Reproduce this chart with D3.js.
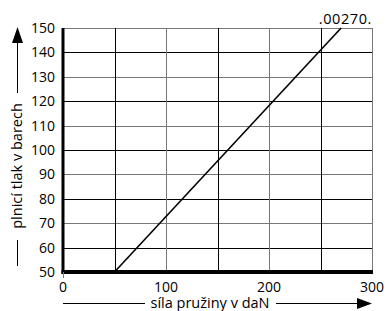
<!DOCTYPE html>
<meta charset="utf-8">
<script src="https://d3js.org/d3.v7.min.js"></script>
<style>
  body { margin: 0; background: #fff; }
  text { font-family: "Open Sans", "Noto Sans", sans-serif; fill: #000; }
</style>
<div id="chart"></div>
<script>
  // data
  var xTicks = [0, 100, 200, 300];
  var yTicks = [50, 60, 70, 80, 90, 100, 110, 120, 130, 140, 150];
  var xGrid = [50, 100, 150, 200, 250, 300];
  var lineX = [50, 270];
  var lineY = [50, 150];
  var lineLabel = ".00270.";

  var W = 387, H = 311;
  var margin = { top: 28, right: 15, bottom: 39, left: 63 };
  var width = W - margin.left - margin.right,
      height = H - margin.top - margin.bottom;

  var svg = d3.select("#chart").append("svg")
    .attr("width", W).attr("height", H);
  var g = svg.append("g")
    .attr("transform", "translate(" + margin.left + "," + margin.top + ")");

  var x = d3.scaleLinear().domain([0, 300]).range([0, width]);
  var y = d3.scaleLinear().domain([50, 150]).range([height, 0]);

  // horizontal grid
  g.selectAll(".hg").data(yTicks.slice(1)).enter().append("line")
    .attr("x1", 0).attr("x2", width)
    .attr("y1", function (d) { return Math.round(y(d)) + 0.5; })
    .attr("y2", function (d) { return Math.round(y(d)) + 0.5; })
    .attr("stroke", function (d) { return d % 20 == 0 ? "#000" : "#777"; })
    .attr("stroke-width", 1);

  // vertical grid
  g.selectAll(".vg").data(xGrid).enter().append("line")
    .attr("y1", 0).attr("y2", height)
    .attr("x1", function (d) { return Math.round(x(d)) + 0.5; })
    .attr("x2", function (d) { return Math.round(x(d)) + 0.5; })
    .attr("stroke", function (d) { return d % 100 == 50 ? "#000" : "#777"; })
    .attr("stroke-width", 1);

  // axes (thick)
  g.append("line").attr("x1", 0).attr("x2", 0).attr("y1", 0).attr("y2", height + 2)
    .attr("stroke", "#000").attr("stroke-width", 3);
  g.append("line").attr("x1", -1.5).attr("x2", width + 1).attr("y1", height).attr("y2", height)
    .attr("stroke", "#000").attr("stroke-width", 4);
  g.append("line").attr("x1", 0.5).attr("x2", 0.5).attr("y1", height).attr("y2", height + 6)
    .attr("stroke", "#777").attr("stroke-width", 1);

  // tick labels
  g.selectAll(".yl").data(yTicks).enter().append("text")
    .attr("x", -8).attr("y", function (d) { return y(d) + 5; })
    .attr("text-anchor", "end").style("font-size", "14px")
    .text(function (d) { return d; });
  g.selectAll(".xl").data(xTicks).enter().append("text")
    .attr("x", function (d) { return x(d); }).attr("y", height + 20)
    .attr("text-anchor", "middle").style("font-size", "14px")
    .text(function (d) { return d; });

  // data line
  g.append("line")
    .attr("x1", x(lineX[0])).attr("y1", y(lineY[0]))
    .attr("x2", x(lineX[1])).attr("y2", y(lineY[1]))
    .attr("stroke", "#000").attr("stroke-width", 1.6);
  g.append("text").attr("x", width).attr("y", -4)
    .attr("text-anchor", "end").style("font-size", "14.5px")
    .style("letter-spacing", "0.6px").text(lineLabel);

  // x label with arrow
  var xl = svg.append("g");
  xl.append("text").attr("x", 210).attr("y", 307.5)
    .attr("text-anchor", "middle").style("font-size", "14.5px").text("síla pružiny v daN");
  xl.append("line").attr("x1", 63).attr("x2", 145).attr("y1", 303.5).attr("y2", 303.5)
    .attr("stroke", "#000");
  xl.append("line").attr("x1", 276).attr("x2", 360).attr("y1", 303.5).attr("y2", 303.5)
    .attr("stroke", "#000");
  xl.append("path").attr("d", "M357,298 L372,303.5 L357,309 Z").attr("fill", "#000");

  // y label with arrow
  var yl = svg.append("g");
  yl.append("text").attr("transform", "translate(22,166) rotate(-90)")
    .attr("text-anchor", "middle").style("font-size", "14.5px").text("plnicí tlak v barech");
  yl.append("line").attr("x1", 17.5).attr("x2", 17.5).attr("y1", 266).attr("y2", 240)
    .attr("stroke", "#000");
  yl.append("line").attr("x1", 17.5).attr("x2", 17.5).attr("y1", 93).attr("y2", 42)
    .attr("stroke", "#000");
  yl.append("path").attr("d", "M12,43 L17.5,27 L23,43 Z").attr("fill", "#000");
</script>
